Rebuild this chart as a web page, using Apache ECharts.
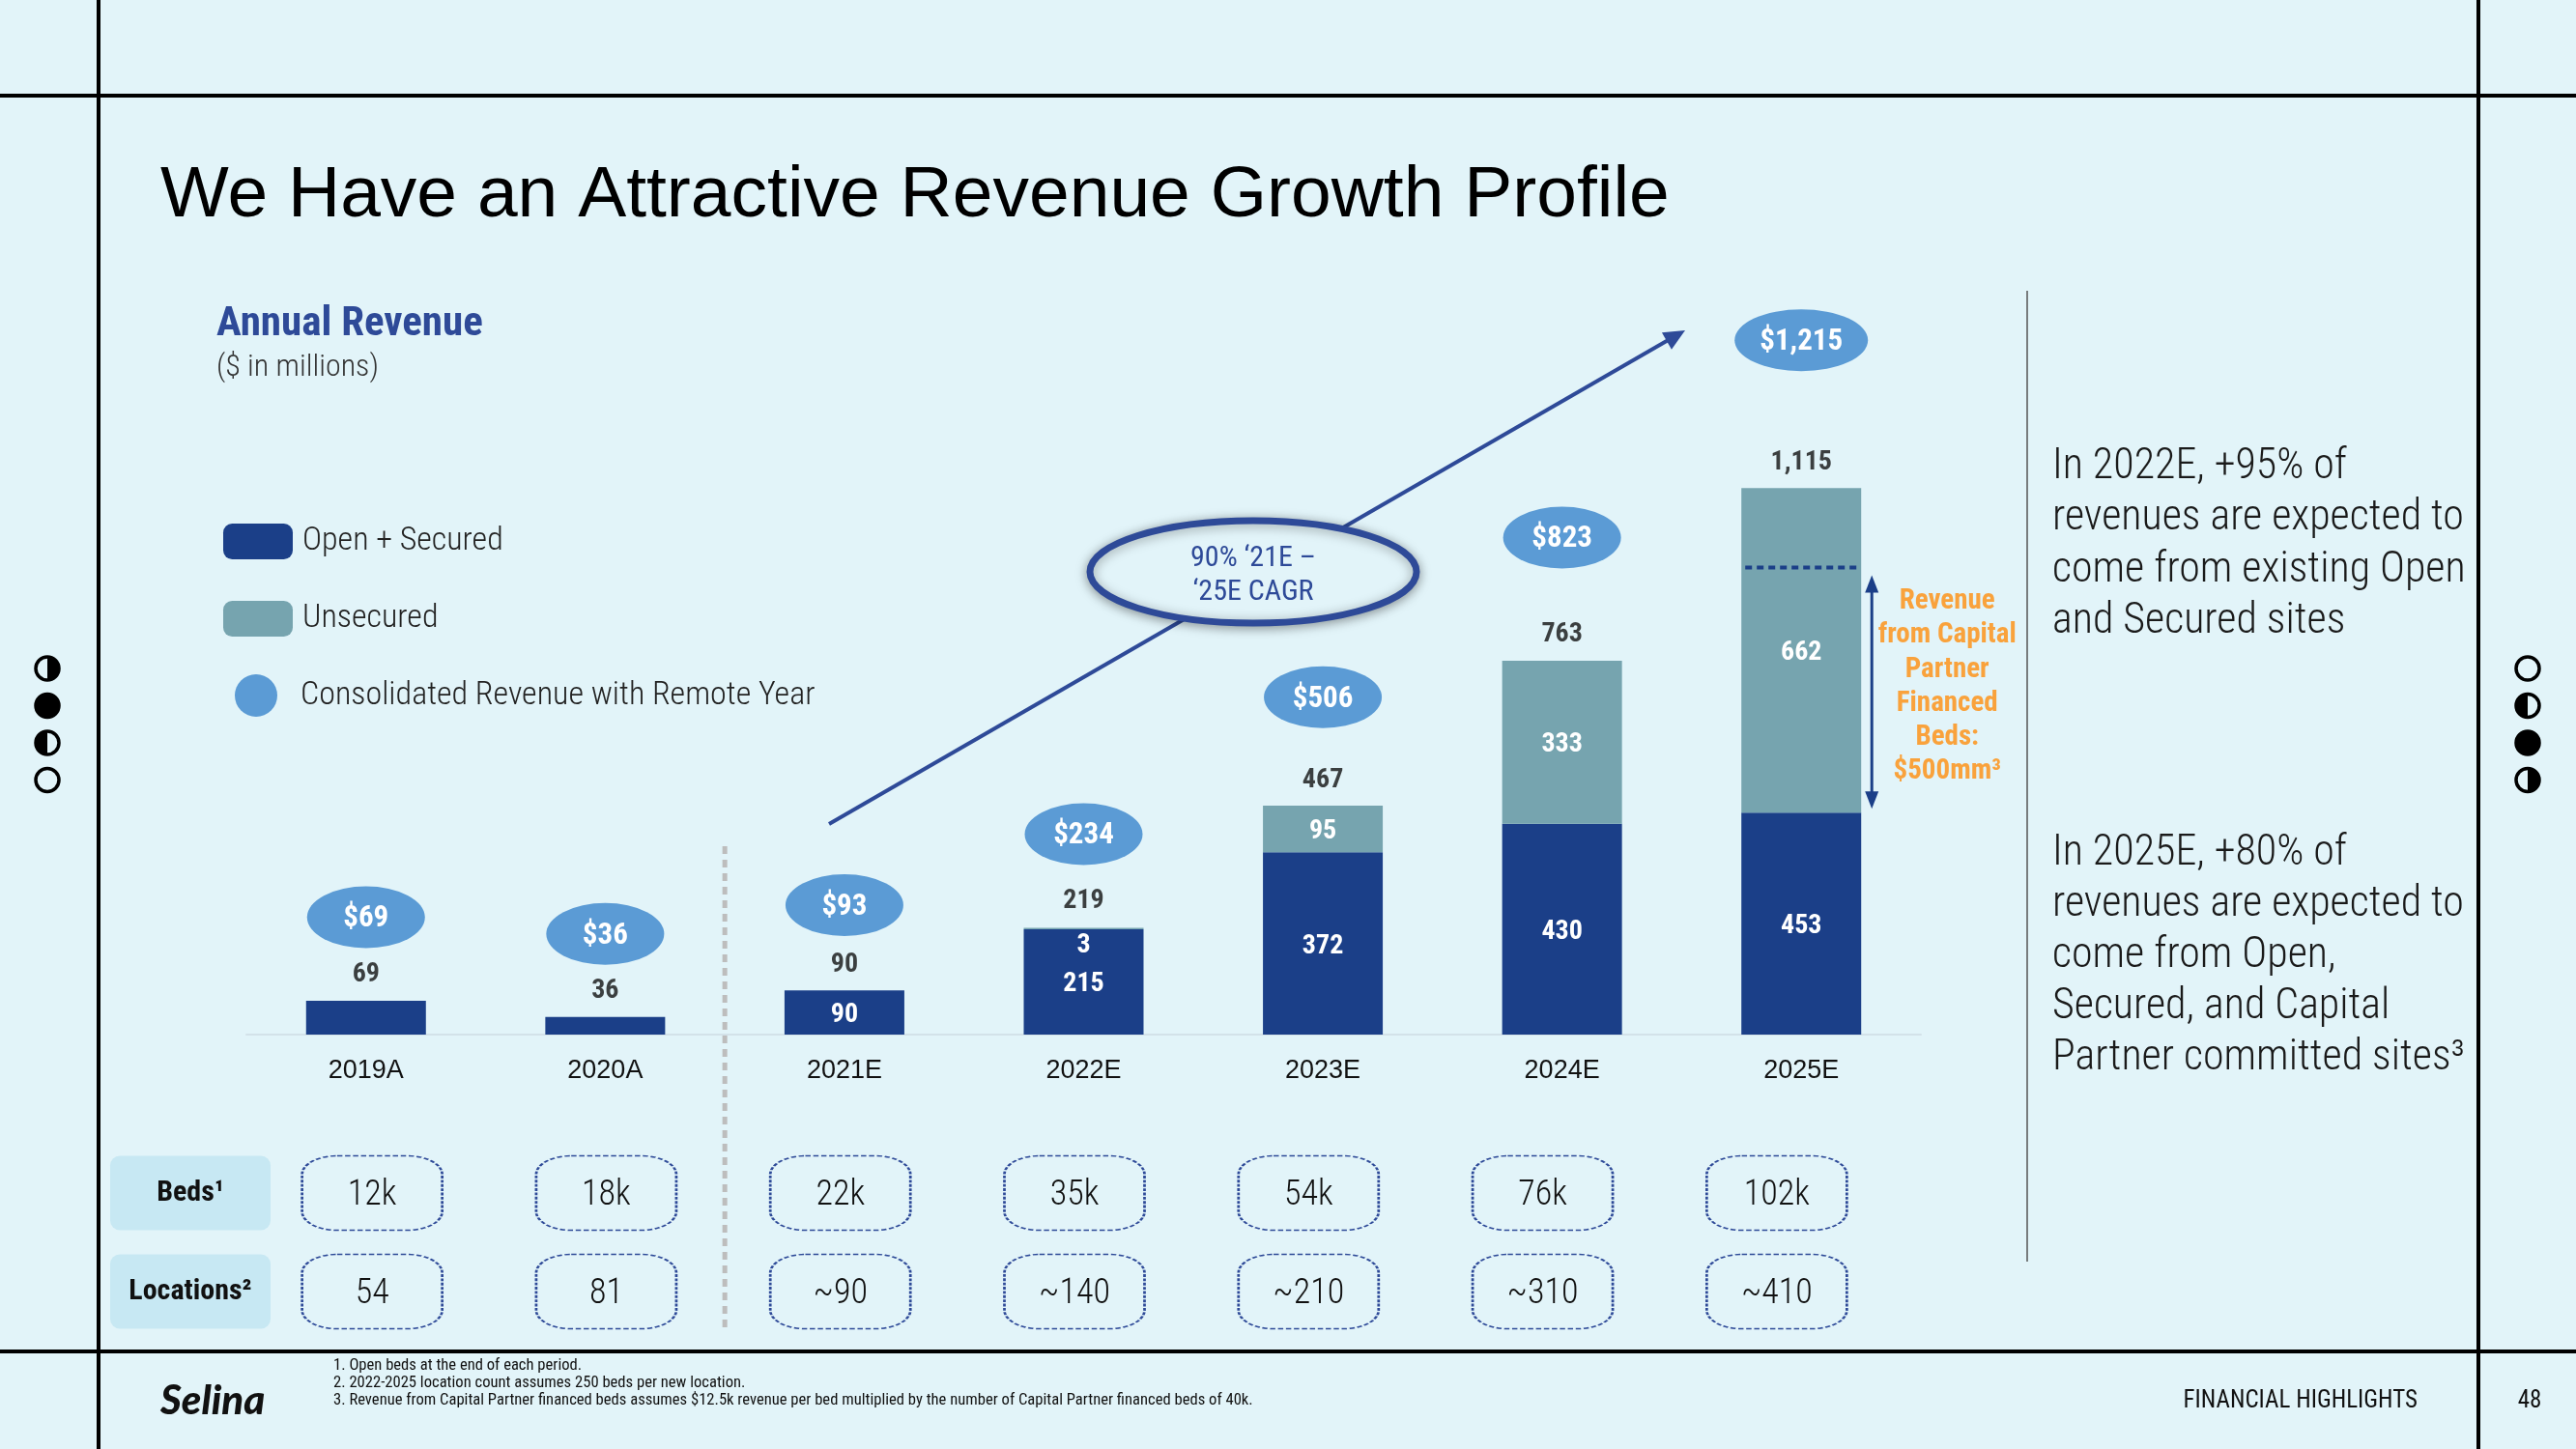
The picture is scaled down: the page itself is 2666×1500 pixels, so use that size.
<!DOCTYPE html>
<html><head><meta charset="utf-8">
<script src="https://cdn.jsdelivr.net/npm/echarts@6/dist/echarts.min.js"></script>
<style>html,body{margin:0;padding:0;background:#E2F4F9;}#c{width:2666px;height:1500px;}</style>
</head><body><div id="c"></div><script>
// ---- data ----
const categories = ['2019A','2020A','2021E','2022E','2023E','2024E','2025E'];
const openSecured = [69,36,90,215,372,430,453];
const unsecured = [0,0,0,3,95,333,662];
const totals = [69,36,90,219,467,763,1115];
const consolidated = [69,36,93,234,506,823,1215];
const beds = ['12k','18k','22k','35k','54k','76k','102k'];
const locations = ['54','81','~90','~140','~210','~310','~410'];
const rowLabels = ['Beds¹','Locations²'];
const capitalPartnerRevenue = 500;

// ---- styles ----
const BG = '#E2F4F9', DARK = '#1B3F88', TEAL = '#76A4AF', BUBBLE = '#5B9BD5', BLUE = '#2E4A98', ORANGE = '#F9A23C';
const COND = '"Roboto Condensed","Liberation Sans Narrow","DejaVu Sans Condensed",Roboto,sans-serif';
const ARIAL = '"Liberation Sans",Arial,sans-serif';

const chart = echarts.init(document.getElementById('c'), null, {renderer:'canvas'});
const legendText = {color:'#222', fontSize:34, fontFamily:COND, fontWeight:300, padding:[4,0,0,5]};
const option = {
  backgroundColor: BG,
  animation: false,
  tooltip: {show:false},
  grid: [
    {left:255, width:1733, top:310, height:761},
    {left:264, width:1696, top:1184, height:204}
  ],
  legend: [
    {data:[{name:'Open + Secured', icon:'roundRect'}], left:231, top:542, padding:0, itemWidth:72, itemHeight:37, selectedMode:false, textStyle:legendText},
    {data:[{name:'Unsecured', icon:'roundRect'}], left:231, top:622, padding:0, itemWidth:72, itemHeight:37, selectedMode:false, textStyle:legendText},
    {data:[{name:'Consolidated Revenue with Remote Year', icon:'circle'}], left:243, top:698, padding:0, itemWidth:44, itemHeight:44, selectedMode:false, textStyle:Object.assign({}, legendText, {padding:[4,0,0,19]})}
  ],
  xAxis: [
    {type:'category', gridIndex:0, data:categories, axisLine:{lineStyle:{color:'#D3E2E9', width:2}}, axisTick:{show:false},
     axisLabel:{margin:24, color:'#111', fontSize:27, fontFamily:ARIAL}},
    {type:'category', gridIndex:1, data:categories, show:false}
  ],
  yAxis: [
    {type:'value', gridIndex:0, min:0, max:1500, show:false},
    {type:'value', gridIndex:0, min:-164, max:1296, show:false},
    {type:'category', gridIndex:1, data:rowLabels, inverse:true, axisLine:{show:false}, axisTick:{show:false}, splitLine:{show:false},
     axisLabel:{align:'center', margin:67, backgroundColor:'#C7E8F3', borderRadius:10, width:166, height:77, lineHeight:80,
       color:'#111', fontSize:30, fontWeight:'bold', fontFamily:COND}}
  ],
  series: [
    {name:'Open + Secured', type:'bar', stack:'rev', xAxisIndex:0, yAxisIndex:0, barWidth:124, itemStyle:{color:DARK},
     data: openSecured.map((v,i)=>({value:v, label:{show:i>=2}})),
     label:{position:'inside', offset:[0,3], color:'#fff', fontWeight:'bold', fontSize:28, fontFamily:COND}, emphasis:{disabled:true}},
    {name:'Unsecured', type:'bar', stack:'rev', xAxisIndex:0, yAxisIndex:0, barWidth:124, itemStyle:{color:TEAL},
     data: unsecured.map(v=>({value:v, label:{show:v>0, offset: v<20 ? [0,18] : [0,3]}})),
     label:{position:'inside', color:'#fff', fontWeight:'bold', fontSize:28, fontFamily:COND}, emphasis:{disabled:true}},
    {name:'Total', type:'scatter', xAxisIndex:0, yAxisIndex:0, data:totals, symbol:'rect', symbolSize:1,
     itemStyle:{color:'rgba(0,0,0,0)'}, emphasis:{disabled:true},
     label:{show:true, position:'top', distance:12, color:'#111', fontWeight:'bold', fontSize:28, fontFamily:COND,
       formatter:p=>p.value.toLocaleString('en-US')}},
    {name:'Consolidated Revenue with Remote Year', type:'scatter', xAxisIndex:0, yAxisIndex:1, data:consolidated, z:5,
     symbol:'circle', symbolSize:v=> v>=1000 ? [138,64] : [122,64], itemStyle:{color:BUBBLE, opacity:1}, emphasis:{disabled:true},
     label:{show:true, position:'inside', offset:[0,2], color:'#fff', fontWeight:'bold', fontSize:31, fontFamily:COND,
       formatter:p=>'$'+p.value.toLocaleString('en-US')}},
    {name:'Cells', type:'scatter', xAxisIndex:1, yAxisIndex:2, symbol:'roundRect', symbolSize:[145,77],
     data: beds.map((b,i)=>[i,0,b]).concat(locations.map((l,i)=>[i,1,l])),
     itemStyle:{color:'rgba(0,0,0,0)', borderColor:BLUE, borderWidth:2, borderType:[4,2], opacity:1}, emphasis:{disabled:true},
     label:{show:true, position:'inside', offset:[0,3], formatter:p=>p.value[2], color:'#111', fontSize:36, fontWeight:300, fontFamily:COND}}
  ]
};
chart.setOption(option);

// ---- annotations (positions derived from scales where tied to data) ----
const px = (i,v)=>chart.convertToPixel({xAxisIndex:0, yAxisIndex:0}, [i,v]);
const lastIdx = categories.length-1;
const barHalf = 62;
const pTop = px(lastIdx, openSecured[lastIdx]+capitalPartnerRevenue);
const pOpen = px(lastIdx, openSecured[lastIdx]);
const sepA = px(1,0), sepB = px(2,0);
const sepX = (sepA[0]+sepB[0])/2;
const arrowX = pOpen[0]+barHalf+11;

function tri(x1,y1,x2,y2,len,hw,color){ // arrowhead at (x2,y2)
  const dx=x2-x1, dy=y2-y1, L=Math.hypot(dx,dy), ux=dx/L, uy=dy/L;
  const bx=x2-ux*len, by=y2-uy*len;
  return {type:'polygon', shape:{points:[[x2,y2],[bx-uy*hw,by+ux*hw],[bx+uy*hw,by-ux*hw]]}, style:{fill:color}, z:20};
}
function txt(x,y,text,o){
  return {type:'text', x, y, z:30, style:Object.assign({text, fill:'#111', fontSize:24, fontFamily:COND, align:'left', verticalAlign:'middle'}, o||{})};
}
function moon(cx,cy,kind){
  const r=12, els=[];
  els.push({type:'circle', shape:{cx,cy,r}, style:{fill:kind==='full'?'#000':BG, stroke:'#000', lineWidth:3.5}, z:30});
  if(kind==='right') els.push({type:'sector', shape:{cx,cy,r,startAngle:-Math.PI/2,endAngle:Math.PI/2}, style:{fill:'#000'}, z:31});
  if(kind==='left') els.push({type:'sector', shape:{cx,cy,r,startAngle:Math.PI/2,endAngle:Math.PI*1.5}, style:{fill:'#000'}, z:31});
  return els;
}
const G = [];
// frame lines
G.push({type:'line', shape:{x1:102,y1:0,x2:102,y2:1500}, style:{stroke:'#000', lineWidth:4}, z:40});
G.push({type:'line', shape:{x1:2565,y1:0,x2:2565,y2:1500}, style:{stroke:'#000', lineWidth:4}, z:40});
G.push({type:'line', shape:{x1:0,y1:99,x2:2666,y2:99}, style:{stroke:'#000', lineWidth:4}, z:40});
G.push({type:'line', shape:{x1:0,y1:1399,x2:2666,y2:1399}, style:{stroke:'#000', lineWidth:4}, z:40});
// title
G.push(txt(166,203,'We Have an Attractive Revenue Growth Profile',{fontSize:75, fontFamily:ARIAL, fill:'#000'}));
G.push(txt(224,336,'Annual Revenue',{fontSize:43, fontWeight:'bold', fill:BLUE}));
G.push(txt(224,381,'($ in millions)',{fontSize:32, fontWeight:300, fill:'#333'}));
// separator
G.push({type:'line', shape:{x1:sepX,y1:876,x2:sepX,y2:1374}, style:{stroke:'#BDBDBD', lineWidth:5, lineDash:[8,6]}, z:3});
// CAGR arrow
const a1=[858,853], a2=[1744,342];
G.push({type:'line', shape:{x1:a1[0],y1:a1[1],x2:a2[0]-14,y2:a2[1]+8}, style:{stroke:BLUE, lineWidth:4}, z:10});
G.push(tri(a1[0],a1[1],a2[0],a2[1],22,10,BLUE));
G.push({type:'ellipse', shape:{cx:1297,cy:592,rx:169,ry:53}, style:{fill:BG, stroke:BLUE, lineWidth:7, shadowBlur:12, shadowColor:'rgba(0,0,0,0.35)', shadowOffsetY:2}, z:12});
G.push(txt(1297,578,'90% ‘21E –',{fontSize:30, fill:BLUE, align:'center'}));
G.push(txt(1297,613,'‘25E CAGR',{fontSize:30, fill:BLUE, align:'center'}));
// capital partner annotation
G.push({type:'line', shape:{x1:pTop[0]-barHalf+4,y1:pTop[1],x2:pTop[0]+barHalf-4,y2:pTop[1]}, style:{stroke:DARK, lineWidth:4, lineDash:[7,5]}, z:15});
G.push({type:'line', shape:{x1:arrowX,y1:pTop[1]+14,x2:arrowX,y2:pOpen[1]-14}, style:{stroke:DARK, lineWidth:3}, z:15});
G.push(tri(arrowX,pOpen[1],arrowX,pTop[1]+8,18,7,DARK));
G.push(tri(arrowX,pTop[1],arrowX,pOpen[1]-4,18,7,DARK));
const orangeLines = ['Revenue','from Capital','Partner','Financed','Beds:','$500mm³'];
orangeLines.forEach((t,k)=>G.push(txt(arrowX+78, 623+k*35.2, t, {fontSize:29, fontWeight:'bold', fill:ORANGE, align:'center'})));
// right panel
G.push({type:'line', shape:{x1:2098,y1:301,x2:2098,y2:1306}, style:{stroke:'#555', lineWidth:1.5}, z:5});
const p1 = ['In 2022E, +95% of','revenues are expected to','come from existing Open','and Secured sites'];
const p2 = ['In 2025E, +80% of','revenues are expected to','come from Open,','Secured, and Capital','Partner committed sites³'];
p1.forEach((t,k)=>G.push(txt(2124, 484+k*53.3, t, {fontSize:44, fontWeight:300, fill:'#1a1a1a'})));
p2.forEach((t,k)=>G.push(txt(2124, 884+k*53.1, t, {fontSize:44, fontWeight:300, fill:'#1a1a1a'})));
// side icons
['right','full','left','empty'].forEach((k,i)=>moon(49, 692+i*38.5, k).forEach(e=>G.push(e)));
['empty','left','full','right'].forEach((k,i)=>moon(2616, 692+i*38.5, k).forEach(e=>G.push(e)));
// footer
G.push(txt(166,1450,'Selina',{fontSize:42, fontStyle:'italic', fontWeight:900, fontFamily:'Lato,"DejaVu Serif",serif', fill:'#111'}));
const notes = ['1. Open beds at the end of each period.','2. 2022-2025 location count assumes 250 beds per new location.','3. Revenue from Capital Partner financed beds assumes $12.5k revenue per bed multiplied by the number of Capital Partner financed beds of 40k.'];
notes.forEach((t,k)=>G.push(txt(345, 1414+k*18, t, {fontSize:16.6, fill:'#111'})));
G.push(txt(2502,1451,'FINANCIAL HIGHLIGHTS',{fontSize:25, align:'right', fill:'#111'}));
G.push(txt(2618,1451,'48',{fontSize:25, align:'center', fill:'#111'}));
chart.setOption({graphic: G});
</script></body></html>
